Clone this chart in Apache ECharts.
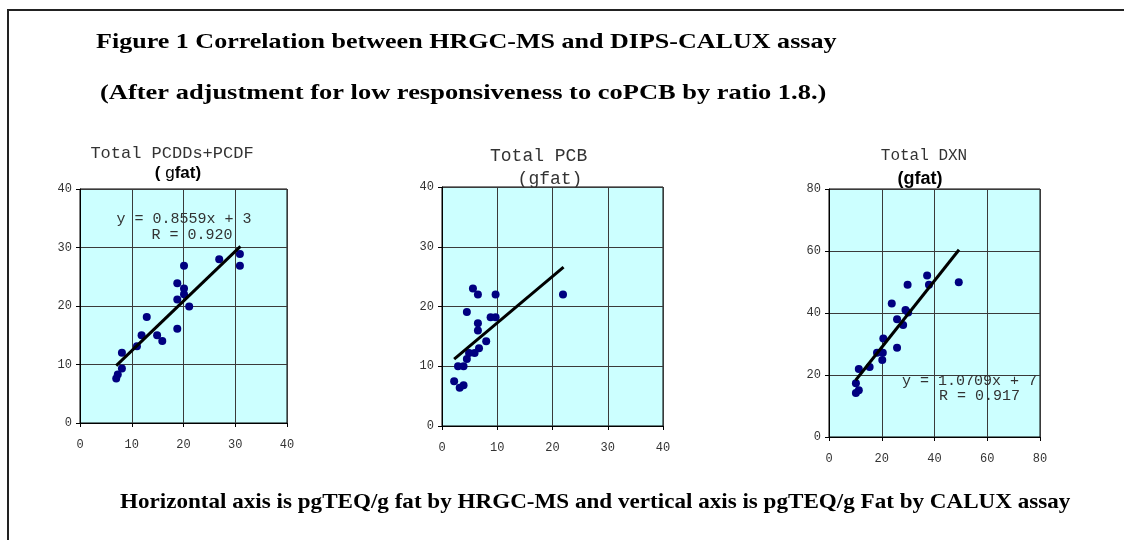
<!DOCTYPE html>
<html>
<head>
<meta charset="utf-8">
<script src="https://cdn.jsdelivr.net/npm/echarts@6/dist/echarts.min.js"></script>
<style>
  html, body { margin: 0; padding: 0; background: #fff; }
  #main { width: 1124px; height: 540px; }
</style>
</head>
<body>
<div id="main"></div>
<script>
// values: [HRGC-MS, CALUX]
var pcddPoints = [
  [7.0, 7.6], [7.3, 8.3], [8.1, 9.3], [8.1, 12], [11, 13.1], [11.9, 15],
  [12.9, 18.1], [14.9, 15], [15.9, 14], [18.8, 16.1], [18.8, 21.1], [18.8, 23.9],
  [20.1, 26.9], [20.1, 23], [20.1, 22], [21.1, 19.9], [26.9, 28], [30.9, 28.9], [30.9, 26.9]
];
var pcddTrend = [[7, 9.8], [31, 30.2]];

var pcbPoints = [
  [2.2, 7.5], [3.2, 6.4], [3.9, 6.8], [2.9, 10], [3.9, 10], [4.5, 19.1],
  [4.5, 11.2], [4.9, 12.2], [5.6, 23], [5.9, 12.2], [6.5, 22], [6.5, 17.2],
  [6.5, 16], [6.7, 13], [8.0, 14.2], [8.8, 18.2], [9.7, 18.2], [9.7, 22], [21.9, 22]
];
var pcbTrend = [[2.2, 11.2], [22, 26.6]];

var dxnPoints = [
  [10.2, 14.2], [10.2, 17.3], [11.3, 15.1], [11.3, 21.9], [15.4, 22.6], [18.2, 27.2],
  [20.4, 27.2], [20.2, 24.8], [20.6, 31.8], [23.8, 43.1], [25.8, 38], [25.8, 28.8],
  [28.1, 36.1], [29.0, 41], [29.8, 49.1], [30.0, 40.2], [37.2, 52.1], [37.9, 49.1], [49.2, 49.9]
];
var dxnTrend = [[10.1, 18.3], [49.3, 60.4]];

var axisMax = [40, 40, 80];
var axisStep = [10, 10, 20];

var chart = echarts.init(document.getElementById('main'));

var mono = '"Liberation Mono", "DejaVu Sans Mono", monospace',
    serif = '"Liberation Serif", "DejaVu Serif", serif',
    sans = '"Liberation Sans", Arial, sans-serif';

var grids = [
  { left: 80, top: 189, width: 207, height: 234 },
  { left: 442, top: 187, width: 221, height: 239 },
  { left: 829, top: 189, width: 211, height: 248 }
];

var xAxes = [], yAxes = [];
grids.forEach(function(g, i) {
  g.show = true;
  g.backgroundColor = '#ccffff';
  g.borderColor = '#000';
  g.borderWidth = 1;
  var common = {
    type: 'value',
    gridIndex: i,
    min: 0,
    max: axisMax[i],
    interval: axisStep[i],
    axisLine: { show: true, lineStyle: { color: '#000', width: 1 } },
    axisTick: { show: true, inside: false, length: 4, lineStyle: { color: '#000' } },
    splitLine: { show: true, lineStyle: { color: '#3a3a3a', width: 1 } }
  };
  xAxes.push(Object.assign({}, common, { axisLabel: { color: '#333', fontFamily: mono, fontSize: 12, margin: 16 } }));
  yAxes.push(Object.assign({}, common, { axisLabel: { color: '#333', fontFamily: mono, fontSize: 12, margin: 8 } }));
});

function scatter(i, data) {
  return {
    type: 'scatter', xAxisIndex: i, yAxisIndex: i, data: data,
    symbolSize: 8, itemStyle: { color: '#000080', opacity: 1 }, z: 3
  };
}
function trend(i, data) {
  return {
    type: 'line', xAxisIndex: i, yAxisIndex: i, data: data,
    symbol: 'none', lineStyle: { color: '#000', width: 3 }, z: 4
  };
}

// text centred vertically on y
function txt(x, y, text, font, color, align, extra) {
  var el = {
    type: 'text', x: x, y: y, silent: true, z: 10,
    style: { text: text, font: font, fill: color || '#000', align: align || 'center', verticalAlign: 'middle' }
  };
  if (extra) Object.assign(el, extra);
  return el;
}

var option = {
  animation: false,
  grid: grids,
  xAxis: xAxes,
  yAxis: yAxes,
  series: [
    scatter(0, pcddPoints), trend(0, pcddTrend),
    scatter(1, pcbPoints), trend(1, pcbTrend),
    scatter(2, dxnPoints), trend(2, dxnTrend)
  ],
  graphic: [
    {
      type: 'rect', silent: true,
      shape: { x: 8, y: 10, width: 1130, height: 560 },
      style: { fill: 'none', stroke: '#222', lineWidth: 2 }
    },
    txt(96, 43, 'Figure 1 Correlation between HRGC-MS and DIPS-CALUX assay', 'bold 21px ' + serif, '#000', 'left', { scaleX: 1.24 }),
    txt(100, 94, '(After adjustment for low responsiveness to coPCB by ratio 1.8.)', 'bold 21px ' + serif, '#000', 'left', { scaleX: 1.26 }),
    txt(120, 503, 'Horizontal axis is pgTEQ/g fat by HRGC-MS and vertical axis is pgTEQ/g Fat by CALUX assay', 'bold 21px ' + serif, '#000', 'left', { scaleX: 1.10 }),

    txt(172, 153, 'Total PCDDs+PCDF', '17px ' + mono, '#333'),
    {
      type: 'text', x: 178, y: 173, silent: true, z: 10,
      style: {
        text: '{b|( }{n|g}{b|fat)}', align: 'center', verticalAlign: 'middle',
        rich: {
          b: { font: 'bold 17px ' + sans, fill: '#000' },
          n: { font: '17px ' + sans, fill: '#000' }
        }
      }
    },
    txt(184, 219, 'y = 0.8559x + 3', '15px ' + mono, '#333'),
    txt(192, 235, 'R = 0.920', '15px ' + mono, '#333'),

    txt(490, 156, 'Total PCB', '18px ' + mono, '#333', 'left', null),
    txt(550, 179, '(gfat)', '18px ' + mono, '#333'),

    txt(924, 156, 'Total DXN', '16px ' + mono, '#333'),
    txt(920, 179, '(gfat)', 'bold 18px ' + sans, '#000'),
    txt(902, 381, 'y = 1.0709x + 7', '15px ' + mono, '#333', 'left'),
    txt(939, 396, 'R = 0.917', '15px ' + mono, '#333', 'left')
  ]
};

chart.setOption(option);
</script>
</body>
</html>
